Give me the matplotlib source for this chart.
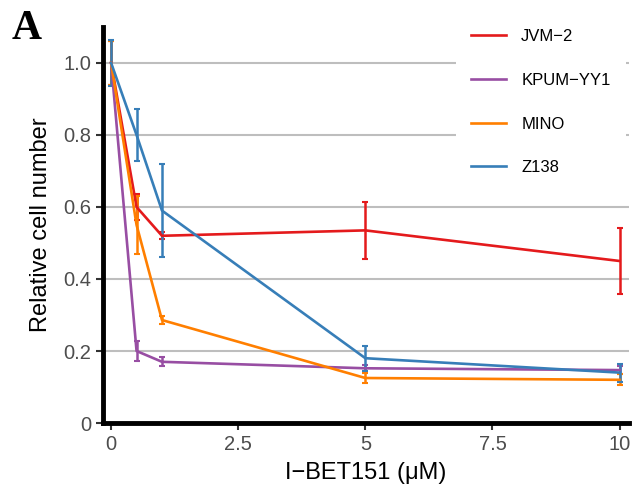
import matplotlib
matplotlib.use('Agg')
import matplotlib.pyplot as plt
from matplotlib.lines import Line2D

plt.rcParams['font.family'] = ['Liberation Sans', 'DejaVu Sans']

# dose of I-BET151 (uM)
dose = [0, 0.5, 1, 5, 10]

cell_lines = ['JVM−2', 'KPUM−YY1', 'MINO', 'Z138']
colors = ['#E41A1C', '#984EA3', '#FF7F00', '#377EB8']

# relative cell number (mean) and error (+/-)
jvm2 = [1.0, 0.60, 0.52, 0.535, 0.45]
jvm2_err = [0.06, 0.035, 0.01, 0.08, 0.093]
kpum = [1.0, 0.20, 0.17, 0.152, 0.147]
kpum_err = [0.06, 0.027, 0.012, 0.01, 0.01]
mino = [1.0, 0.55, 0.286, 0.125, 0.12]
mino_err = [0.06, 0.08, 0.012, 0.015, 0.015]
z138 = [1.0, 0.80, 0.59, 0.18, 0.14]
z138_err = [0.065, 0.073, 0.13, 0.035, 0.025]

means = [jvm2, kpum, mino, z138]
errs = [jvm2_err, kpum_err, mino_err, z138_err]

fig = plt.figure(figsize=(6.37, 4.90), dpi=100)
ax = fig.add_axes([0.1617, 0.1367, 0.8253, 0.8083])

for name, col, m, e in zip(cell_lines, colors, means, errs):
    ax.errorbar(dose, m, yerr=e, color=col, lw=1.9, capsize=2.5,
                elinewidth=1.8, capthick=1.5)

ax.set_xlim(-0.16, 10.18)
ax.set_ylim(0, 1.1)
ax.set_yticks([0, 0.2, 0.4, 0.6, 0.8, 1.0])
ax.set_yticklabels(['0', '0.2', '0.4', '0.6', '0.8', '1.0'])
ax.set_xticks([0, 2.5, 5, 7.5, 10])
ax.set_xticklabels(['0', '2.5', '5', '7.5', '10'])

for y in [0.2, 0.4, 0.6, 0.8, 1.0]:
    ax.axhline(y, color='#BEBEBE', lw=1.5, zorder=0)

for s in ['top', 'right']:
    ax.spines[s].set_visible(False)
for s in ['left', 'bottom']:
    ax.spines[s].set_linewidth(3.5)
    ax.spines[s].set_color('black')

ax.tick_params(axis='both', length=5, width=1.5, color='#333333',
               labelsize=14.5, labelcolor='#4D4D4D')

ax.set_xlabel('I−BET151 (μM)', fontsize=17, labelpad=6)
ax.set_ylabel('Relative cell number', fontsize=17, labelpad=8)

handles = [Line2D([], [], color=c, lw=1.9) for c in colors]
leg = fig.legend(handles, cell_lines, loc='upper left',
                 bbox_to_anchor=(0.703, 0.988),
                 fontsize=12, frameon=True, facecolor='white',
                 edgecolor='none', framealpha=1, handlelength=2.1,
                 handletextpad=0.9, labelspacing=1.72, borderpad=0.9)

fig.text(0.018, 0.92, 'A', fontsize=30, fontweight='bold',
         family='Liberation Serif')

fig.savefig('out.png', dpi=100)
